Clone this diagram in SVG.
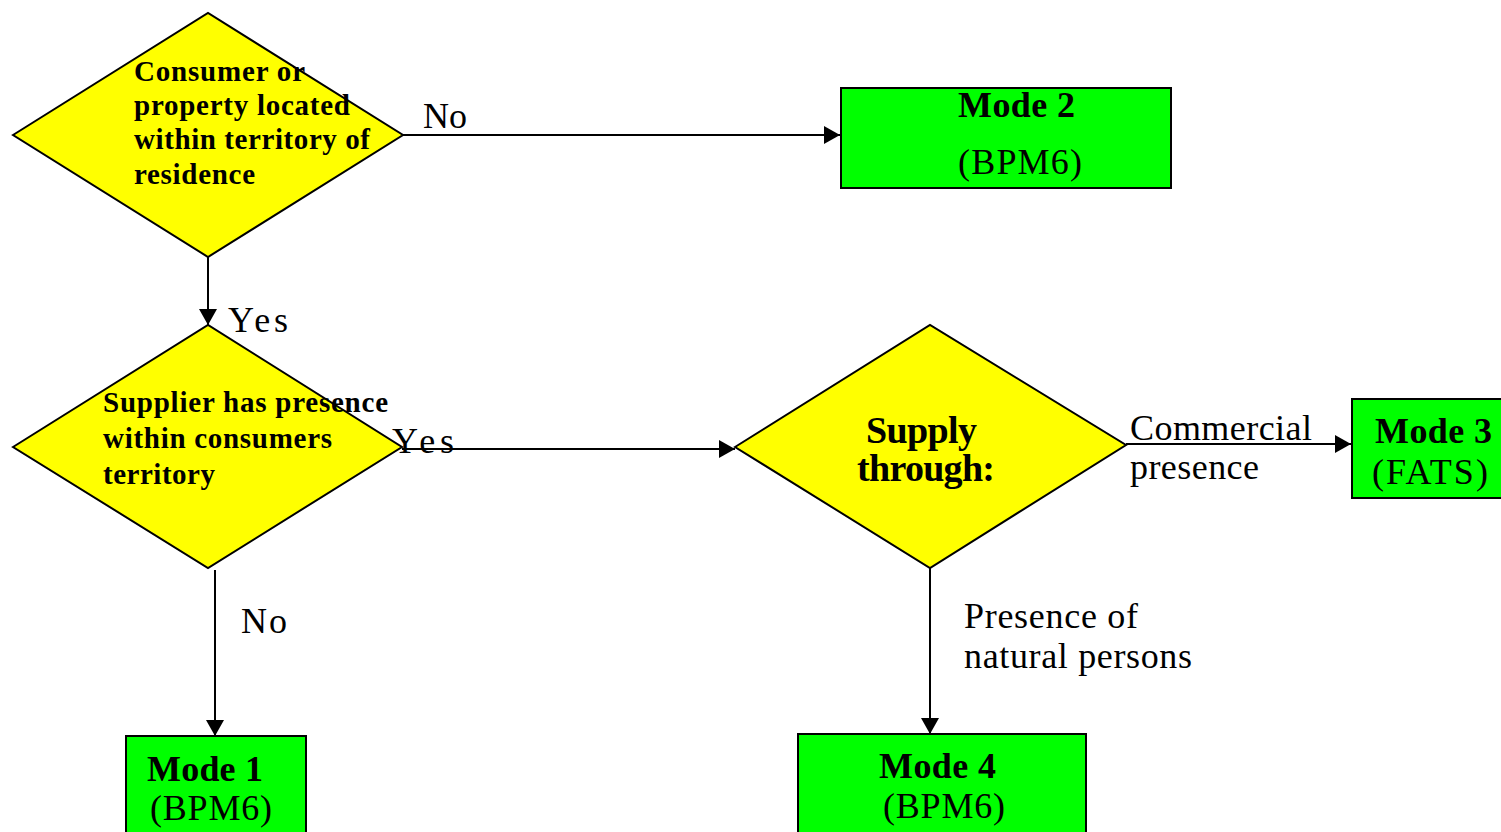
<svg xmlns="http://www.w3.org/2000/svg" width="1501" height="832" viewBox="0 0 1501 832">
<style>
.dec{fill:#FFFF00;stroke:#000;stroke-width:2}
.box{fill:#00FF00;stroke:#000;stroke-width:2}
.ln{stroke:#000;stroke-width:2;fill:none}
.t{font-family:"Liberation Serif","Times New Roman",serif;fill:#000}
.b{font-weight:bold}
.s27{font-size:29px}
.s36{font-size:36px}
.s37{font-size:38px}
</style>
<defs>
<marker id="arr" viewBox="0 0 16 18" refX="16" refY="9" markerWidth="16" markerHeight="18" markerUnits="userSpaceOnUse" orient="auto">
<path d="M0,0 L16,9 L0,18 Z" fill="#000"/>
</marker>
</defs>
<rect width="1501" height="832" fill="#fff"/>
<g id="connectors">
<line class="ln" x1="403" y1="135" x2="840" y2="135" marker-end="url(#arr)"/>
<line class="ln" x1="208" y1="257" x2="208" y2="325" marker-end="url(#arr)"/>
<line class="ln" x1="402" y1="449" x2="735" y2="449" marker-end="url(#arr)"/>
<line class="ln" x1="1126" y1="444" x2="1351" y2="444" marker-end="url(#arr)"/>
<line class="ln" x1="215" y1="570" x2="215" y2="736" marker-end="url(#arr)"/>
<line class="ln" x1="930" y1="568" x2="930" y2="734" marker-end="url(#arr)"/>
<text class="t s36" x="423" y="128" textLength="44">No</text>
<text class="t s36" x="228" y="332" textLength="60">Yes</text>
<text class="t s36" x="392" y="453" textLength="62">Yes</text>
<text class="t s36" x="241" y="633" textLength="46">No</text>
<text class="t s36" x="1130" y="440" textLength="182">Commercial</text>
<text class="t s36" x="1130" y="479" textLength="129">presence</text>
<text class="t s36" x="964" y="628" textLength="174">Presence of</text>
<text class="t s36" x="964" y="668" textLength="228">natural persons</text>
</g>
<g id="d1">
<polygon class="dec" points="13,135 208,13 403,135 208,257"/>
<text class="t b s27" x="134" y="81" textLength="171">Consumer or</text>
<text class="t b s27" x="134" y="115" textLength="216">property located</text>
<text class="t b s27" x="134" y="149" textLength="236">within territory of</text>
<text class="t b s27" x="134" y="184" textLength="121">residence</text>
</g>
<g id="d2">
<polygon class="dec" points="13,447 208,325 402,447 208,568"/>
<text class="t b s27" x="103" y="412" textLength="285">Supplier has presence</text>
<text class="t b s27" x="103" y="448" textLength="229">within consumers</text>
<text class="t b s27" x="103" y="484" textLength="112">territory</text>
</g>
<g id="d3">
<polygon class="dec" points="735,447 930,325 1126,445 930,568"/>
<text class="t b s37" x="866" y="443" textLength="111">Supply</text>
<text class="t b s37" x="857" y="481" textLength="138">through:</text>
</g>
<g id="mode2">
<rect class="box" x="841" y="88" width="330" height="100"/>
<text class="t b s36" x="958" y="117" textLength="117">Mode 2</text>
<text class="t s36" x="958" y="174" textLength="124">(BPM6)</text>
</g>
<g id="mode3">
<rect class="box" x="1352" y="399" width="160" height="99"/>
<text class="t b s36" x="1375" y="443" textLength="117">Mode 3</text>
<text class="t s36" x="1372" y="484" textLength="116">(FATS)</text>
</g>
<g id="mode1">
<rect class="box" x="126" y="736" width="180" height="110"/>
<text class="t b s36" x="147" y="781" textLength="116">Mode 1</text>
<text class="t s36" x="150" y="820" textLength="122">(BPM6)</text>
</g>
<g id="mode4">
<rect class="box" x="798" y="734" width="288" height="110"/>
<text class="t b s36" x="879" y="778" textLength="117">Mode 4</text>
<text class="t s36" x="883" y="818" textLength="122">(BPM6)</text>
</g>
</svg>
